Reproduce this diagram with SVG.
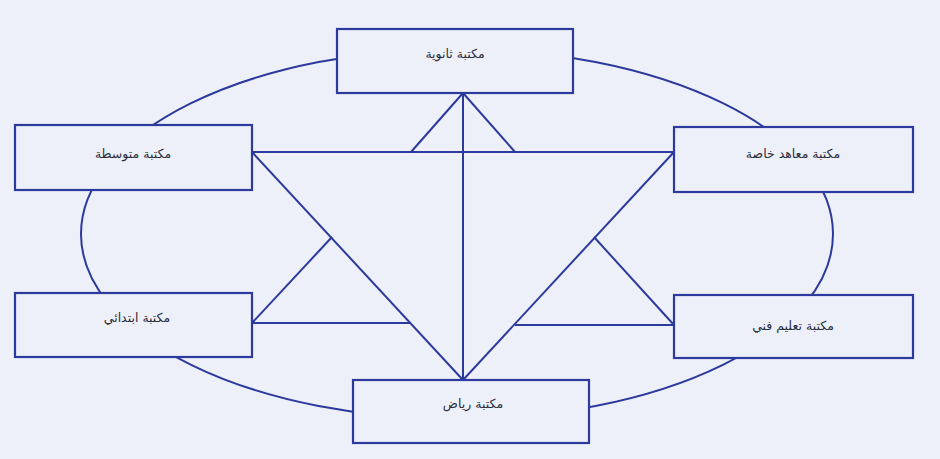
<svg xmlns="http://www.w3.org/2000/svg" width="940" height="459" viewBox="0 0 940 459">
<style>
.ln{stroke:#2b3a9c;stroke-width:2;fill:none}
.bx{stroke:#2b3a9c;stroke-width:2.2;fill:#eef0f9}
.t{font-family:"DejaVu Sans",sans-serif;font-size:12.5px;fill:#2a2e3c;text-anchor:middle;direction:rtl}
</style>
<rect x="0" y="0" width="940" height="459" fill="#eef0f9"/>
<g id="connectors">
<ellipse class="ln" cx="457" cy="234" rx="376" ry="185"/>
<line class="ln" x1="252" y1="152" x2="674" y2="152"/>
<line class="ln" x1="463" y1="93" x2="463" y2="380"/>
<line class="ln" x1="252" y1="152" x2="463" y2="380"/>
<line class="ln" x1="674" y1="152" x2="463" y2="380"/>
<line class="ln" x1="411" y1="152" x2="463" y2="93"/>
<line class="ln" x1="515" y1="152" x2="463" y2="93"/>
<line class="ln" x1="252" y1="323" x2="332" y2="237"/>
<line class="ln" x1="252" y1="323" x2="410" y2="323"/>
<line class="ln" x1="674" y1="325" x2="594" y2="237"/>
<line class="ln" x1="674" y1="325" x2="515" y2="325"/>
</g>
<g id="n_thanawiya"><rect class="bx" x="337" y="29" width="236" height="64"/><text class="t" x="455" y="58">مكتبة ثانوية</text></g>
<g id="n_mutawassita"><rect class="bx" x="15" y="125" width="237" height="65"/><text class="t" x="133" y="158">مكتبة متوسطة</text></g>
<g id="n_maahid"><rect class="bx" x="674" y="127" width="239" height="65"/><text class="t" x="793" y="158">مكتبة معاهد خاصة</text></g>
<g id="n_ibtidai"><rect class="bx" x="15" y="293" width="237" height="64"/><text class="t" x="137" y="322">مكتبة ابتدائي</text></g>
<g id="n_taalim"><rect class="bx" x="674" y="295" width="239" height="63"/><text class="t" x="793" y="330">مكتبة تعليم فني</text></g>
<g id="n_riyad"><rect class="bx" x="353" y="380" width="236" height="63"/><text class="t" x="473" y="408">مكتبة رياض</text></g>
</svg>
